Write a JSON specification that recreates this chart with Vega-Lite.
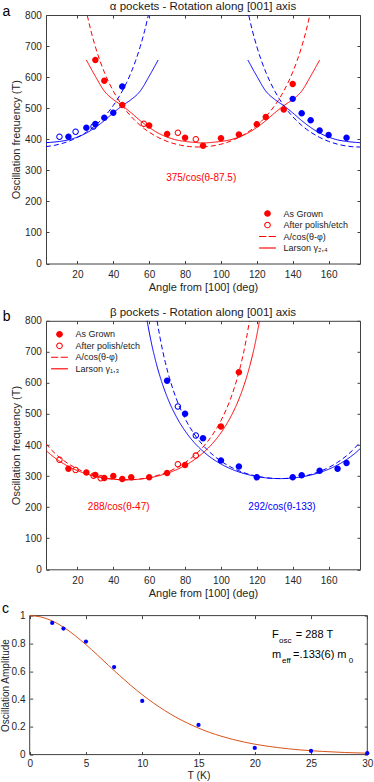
{
  "$schema": "https://vega.github.io/schema/vega-lite/v6.json",
  "padding": {"left": 0, "top": 0, "right": 0, "bottom": 0},
  "background": "white",
  "config": {
    "font": "Liberation Sans",
    "view": {"stroke": "#404040", "strokeWidth": 1},
    "axis": {"domain": false, "grid": false, "tickColor": "#404040", "tickSize": -3, "labelColor": "#262626", "labelFontSize": 10, "titleFontSize": 11, "titleFontWeight": "normal", "titleColor": "#262626", "labelFont": "Liberation Sans", "titleFont": "Liberation Sans", "labelFlush": false},
    "axisBottom": {"labelPadding": 8.9, "titlePadding": 2},
    "axisLeft": {"labelPadding": 7.7, "titlePadding": 3.5},
    "title": {"fontSize": 11.5, "fontWeight": "normal", "color": "#1a1a1a", "offset": -8.2, "font": "Liberation Sans"},
    "legend": {"title": null, "padding": 0, "labelFontSize": 9, "labelOffset": 11.5, "rowPadding": 1.5, "labelColor": "#1a1a1a", "labelFont": "Liberation Sans", "symbolFillColor": "#FF0000", "symbolStrokeWidth": 0, "symbolStrokeColor": "transparent", "symbolSize": 45, "symbolOpacity": 1}
  },
  "datasets": {
    "aPoints": [
      {"pocket": "red", "kind": "As Grown", "angle": 30, "freq": 655},
      {"pocket": "red", "kind": "As Grown", "angle": 35, "freq": 588},
      {"pocket": "red", "kind": "As Grown", "angle": 45, "freq": 510},
      {"pocket": "red", "kind": "As Grown", "angle": 60, "freq": 444},
      {"pocket": "red", "kind": "As Grown", "angle": 70, "freq": 417},
      {"pocket": "red", "kind": "As Grown", "angle": 80, "freq": 405},
      {"pocket": "red", "kind": "As Grown", "angle": 90, "freq": 379},
      {"pocket": "red", "kind": "As Grown", "angle": 100, "freq": 403},
      {"pocket": "red", "kind": "As Grown", "angle": 110, "freq": 415},
      {"pocket": "red", "kind": "As Grown", "angle": 120, "freq": 448},
      {"pocket": "red", "kind": "As Grown", "angle": 125, "freq": 472},
      {"pocket": "red", "kind": "As Grown", "angle": 135, "freq": 496},
      {"pocket": "red", "kind": "As Grown", "angle": 140, "freq": 578},
      {"pocket": "red", "kind": "After polish/etch", "angle": 57, "freq": 450},
      {"pocket": "red", "kind": "After polish/etch", "angle": 76, "freq": 421},
      {"pocket": "red", "kind": "After polish/etch", "angle": 86, "freq": 400},
      {"pocket": "blue", "kind": "As Grown", "angle": 15, "freq": 408},
      {"pocket": "blue", "kind": "As Grown", "angle": 25, "freq": 437},
      {"pocket": "blue", "kind": "As Grown", "angle": 30, "freq": 449},
      {"pocket": "blue", "kind": "As Grown", "angle": 35, "freq": 469},
      {"pocket": "blue", "kind": "As Grown", "angle": 40, "freq": 485},
      {"pocket": "blue", "kind": "As Grown", "angle": 45, "freq": 570},
      {"pocket": "blue", "kind": "As Grown", "angle": 140, "freq": 530},
      {"pocket": "blue", "kind": "As Grown", "angle": 145, "freq": 484},
      {"pocket": "blue", "kind": "As Grown", "angle": 150, "freq": 461},
      {"pocket": "blue", "kind": "As Grown", "angle": 155, "freq": 428},
      {"pocket": "blue", "kind": "As Grown", "angle": 160, "freq": 414},
      {"pocket": "blue", "kind": "As Grown", "angle": 170, "freq": 405},
      {"pocket": "blue", "kind": "After polish/etch", "angle": 10, "freq": 408},
      {"pocket": "blue", "kind": "After polish/etch", "angle": 19, "freq": 424},
      {"pocket": "blue", "kind": "After polish/etch", "angle": 29, "freq": 441}
    ],
    "aLines": [
      {"pocket": "red", "style": "A/cos(θ-φ)", "seg": "rd", "angle": 25.5, "freq": 798.7},
      {"pocket": "red", "style": "A/cos(θ-φ)", "seg": "rd", "angle": 27.5, "freq": 750},
      {"pocket": "red", "style": "A/cos(θ-φ)", "seg": "rd", "angle": 30, "freq": 698},
      {"pocket": "red", "style": "A/cos(θ-φ)", "seg": "rd", "angle": 32.5, "freq": 653.8},
      {"pocket": "red", "style": "A/cos(θ-φ)", "seg": "rd", "angle": 35, "freq": 616},
      {"pocket": "red", "style": "A/cos(θ-φ)", "seg": "rd", "angle": 37.5, "freq": 583.4},
      {"pocket": "red", "style": "A/cos(θ-φ)", "seg": "rd", "angle": 40, "freq": 555},
      {"pocket": "red", "style": "A/cos(θ-φ)", "seg": "rd", "angle": 42.5, "freq": 530.3},
      {"pocket": "red", "style": "A/cos(θ-φ)", "seg": "rd", "angle": 45, "freq": 508.6},
      {"pocket": "red", "style": "A/cos(θ-φ)", "seg": "rd", "angle": 47.5, "freq": 489.5},
      {"pocket": "red", "style": "A/cos(θ-φ)", "seg": "rd", "angle": 50, "freq": 472.7},
      {"pocket": "red", "style": "A/cos(θ-φ)", "seg": "rd", "angle": 52.5, "freq": 457.8},
      {"pocket": "red", "style": "A/cos(θ-φ)", "seg": "rd", "angle": 55, "freq": 444.6},
      {"pocket": "red", "style": "A/cos(θ-φ)", "seg": "rd", "angle": 57.5, "freq": 433},
      {"pocket": "red", "style": "A/cos(θ-φ)", "seg": "rd", "angle": 60, "freq": 422.8},
      {"pocket": "red", "style": "A/cos(θ-φ)", "seg": "rd", "angle": 62.5, "freq": 413.8},
      {"pocket": "red", "style": "A/cos(θ-φ)", "seg": "rd", "angle": 65, "freq": 405.9},
      {"pocket": "red", "style": "A/cos(θ-φ)", "seg": "rd", "angle": 67.5, "freq": 399.1},
      {"pocket": "red", "style": "A/cos(θ-φ)", "seg": "rd", "angle": 70, "freq": 393.2},
      {"pocket": "red", "style": "A/cos(θ-φ)", "seg": "rd", "angle": 72.5, "freq": 388.2},
      {"pocket": "red", "style": "A/cos(θ-φ)", "seg": "rd", "angle": 75, "freq": 384.1},
      {"pocket": "red", "style": "A/cos(θ-φ)", "seg": "rd", "angle": 77.5, "freq": 380.8},
      {"pocket": "red", "style": "A/cos(θ-φ)", "seg": "rd", "angle": 80, "freq": 378.3},
      {"pocket": "red", "style": "A/cos(θ-φ)", "seg": "rd", "angle": 82.5, "freq": 376.4},
      {"pocket": "red", "style": "A/cos(θ-φ)", "seg": "rd", "angle": 85, "freq": 375.4},
      {"pocket": "red", "style": "A/cos(θ-φ)", "seg": "rd", "angle": 87.5, "freq": 375},
      {"pocket": "red", "style": "A/cos(θ-φ)", "seg": "rd", "angle": 90, "freq": 375.4},
      {"pocket": "red", "style": "A/cos(θ-φ)", "seg": "rd", "angle": 92.5, "freq": 376.4},
      {"pocket": "red", "style": "A/cos(θ-φ)", "seg": "rd", "angle": 95, "freq": 378.3},
      {"pocket": "red", "style": "A/cos(θ-φ)", "seg": "rd", "angle": 97.5, "freq": 380.8},
      {"pocket": "red", "style": "A/cos(θ-φ)", "seg": "rd", "angle": 100, "freq": 384.1},
      {"pocket": "red", "style": "A/cos(θ-φ)", "seg": "rd", "angle": 102.5, "freq": 388.2},
      {"pocket": "red", "style": "A/cos(θ-φ)", "seg": "rd", "angle": 105, "freq": 393.2},
      {"pocket": "red", "style": "A/cos(θ-φ)", "seg": "rd", "angle": 107.5, "freq": 399.1},
      {"pocket": "red", "style": "A/cos(θ-φ)", "seg": "rd", "angle": 110, "freq": 405.9},
      {"pocket": "red", "style": "A/cos(θ-φ)", "seg": "rd", "angle": 112.5, "freq": 413.8},
      {"pocket": "red", "style": "A/cos(θ-φ)", "seg": "rd", "angle": 115, "freq": 422.8},
      {"pocket": "red", "style": "A/cos(θ-φ)", "seg": "rd", "angle": 117.5, "freq": 433},
      {"pocket": "red", "style": "A/cos(θ-φ)", "seg": "rd", "angle": 120, "freq": 444.6},
      {"pocket": "red", "style": "A/cos(θ-φ)", "seg": "rd", "angle": 122.5, "freq": 457.8},
      {"pocket": "red", "style": "A/cos(θ-φ)", "seg": "rd", "angle": 125, "freq": 472.7},
      {"pocket": "red", "style": "A/cos(θ-φ)", "seg": "rd", "angle": 127.5, "freq": 489.5},
      {"pocket": "red", "style": "A/cos(θ-φ)", "seg": "rd", "angle": 130, "freq": 508.6},
      {"pocket": "red", "style": "A/cos(θ-φ)", "seg": "rd", "angle": 132.5, "freq": 530.3},
      {"pocket": "red", "style": "A/cos(θ-φ)", "seg": "rd", "angle": 135, "freq": 555},
      {"pocket": "red", "style": "A/cos(θ-φ)", "seg": "rd", "angle": 137.5, "freq": 583.4},
      {"pocket": "red", "style": "A/cos(θ-φ)", "seg": "rd", "angle": 140, "freq": 616},
      {"pocket": "red", "style": "A/cos(θ-φ)", "seg": "rd", "angle": 142.5, "freq": 653.8},
      {"pocket": "red", "style": "A/cos(θ-φ)", "seg": "rd", "angle": 145, "freq": 698},
      {"pocket": "red", "style": "A/cos(θ-φ)", "seg": "rd", "angle": 147.5, "freq": 750},
      {"pocket": "red", "style": "A/cos(θ-φ)", "seg": "rd", "angle": 149.5, "freq": 798.7},
      {"pocket": "blue", "style": "A/cos(θ-φ)", "seg": "bd1", "angle": 2.5, "freq": 376.4},
      {"pocket": "blue", "style": "A/cos(θ-φ)", "seg": "bd1", "angle": 5, "freq": 378.3},
      {"pocket": "blue", "style": "A/cos(θ-φ)", "seg": "bd1", "angle": 7.5, "freq": 380.8},
      {"pocket": "blue", "style": "A/cos(θ-φ)", "seg": "bd1", "angle": 10, "freq": 384.1},
      {"pocket": "blue", "style": "A/cos(θ-φ)", "seg": "bd1", "angle": 12.5, "freq": 388.2},
      {"pocket": "blue", "style": "A/cos(θ-φ)", "seg": "bd1", "angle": 15, "freq": 393.2},
      {"pocket": "blue", "style": "A/cos(θ-φ)", "seg": "bd1", "angle": 17.5, "freq": 399.1},
      {"pocket": "blue", "style": "A/cos(θ-φ)", "seg": "bd1", "angle": 20, "freq": 405.9},
      {"pocket": "blue", "style": "A/cos(θ-φ)", "seg": "bd1", "angle": 22.5, "freq": 413.8},
      {"pocket": "blue", "style": "A/cos(θ-φ)", "seg": "bd1", "angle": 25, "freq": 422.8},
      {"pocket": "blue", "style": "A/cos(θ-φ)", "seg": "bd1", "angle": 27.5, "freq": 433},
      {"pocket": "blue", "style": "A/cos(θ-φ)", "seg": "bd1", "angle": 30, "freq": 444.6},
      {"pocket": "blue", "style": "A/cos(θ-φ)", "seg": "bd1", "angle": 32.5, "freq": 457.8},
      {"pocket": "blue", "style": "A/cos(θ-φ)", "seg": "bd1", "angle": 35, "freq": 472.7},
      {"pocket": "blue", "style": "A/cos(θ-φ)", "seg": "bd1", "angle": 37.5, "freq": 489.5},
      {"pocket": "blue", "style": "A/cos(θ-φ)", "seg": "bd1", "angle": 40, "freq": 508.6},
      {"pocket": "blue", "style": "A/cos(θ-φ)", "seg": "bd1", "angle": 42.5, "freq": 530.3},
      {"pocket": "blue", "style": "A/cos(θ-φ)", "seg": "bd1", "angle": 45, "freq": 555},
      {"pocket": "blue", "style": "A/cos(θ-φ)", "seg": "bd1", "angle": 47.5, "freq": 583.4},
      {"pocket": "blue", "style": "A/cos(θ-φ)", "seg": "bd1", "angle": 50, "freq": 616},
      {"pocket": "blue", "style": "A/cos(θ-φ)", "seg": "bd1", "angle": 52.5, "freq": 653.8},
      {"pocket": "blue", "style": "A/cos(θ-φ)", "seg": "bd1", "angle": 55, "freq": 698},
      {"pocket": "blue", "style": "A/cos(θ-φ)", "seg": "bd1", "angle": 57.5, "freq": 750},
      {"pocket": "blue", "style": "A/cos(θ-φ)", "seg": "bd1", "angle": 59.5, "freq": 798.7},
      {"pocket": "blue", "style": "A/cos(θ-φ)", "seg": "bd2", "angle": 115.5, "freq": 798.7},
      {"pocket": "blue", "style": "A/cos(θ-φ)", "seg": "bd2", "angle": 117.5, "freq": 750},
      {"pocket": "blue", "style": "A/cos(θ-φ)", "seg": "bd2", "angle": 120, "freq": 698},
      {"pocket": "blue", "style": "A/cos(θ-φ)", "seg": "bd2", "angle": 122.5, "freq": 653.8},
      {"pocket": "blue", "style": "A/cos(θ-φ)", "seg": "bd2", "angle": 125, "freq": 616},
      {"pocket": "blue", "style": "A/cos(θ-φ)", "seg": "bd2", "angle": 127.5, "freq": 583.4},
      {"pocket": "blue", "style": "A/cos(θ-φ)", "seg": "bd2", "angle": 130, "freq": 555},
      {"pocket": "blue", "style": "A/cos(θ-φ)", "seg": "bd2", "angle": 132.5, "freq": 530.3},
      {"pocket": "blue", "style": "A/cos(θ-φ)", "seg": "bd2", "angle": 135, "freq": 508.6},
      {"pocket": "blue", "style": "A/cos(θ-φ)", "seg": "bd2", "angle": 137.5, "freq": 489.5},
      {"pocket": "blue", "style": "A/cos(θ-φ)", "seg": "bd2", "angle": 140, "freq": 472.7},
      {"pocket": "blue", "style": "A/cos(θ-φ)", "seg": "bd2", "angle": 142.5, "freq": 457.8},
      {"pocket": "blue", "style": "A/cos(θ-φ)", "seg": "bd2", "angle": 145, "freq": 444.6},
      {"pocket": "blue", "style": "A/cos(θ-φ)", "seg": "bd2", "angle": 147.5, "freq": 433},
      {"pocket": "blue", "style": "A/cos(θ-φ)", "seg": "bd2", "angle": 150, "freq": 422.8},
      {"pocket": "blue", "style": "A/cos(θ-φ)", "seg": "bd2", "angle": 152.5, "freq": 413.8},
      {"pocket": "blue", "style": "A/cos(θ-φ)", "seg": "bd2", "angle": 155, "freq": 405.9},
      {"pocket": "blue", "style": "A/cos(θ-φ)", "seg": "bd2", "angle": 157.5, "freq": 399.1},
      {"pocket": "blue", "style": "A/cos(θ-φ)", "seg": "bd2", "angle": 160, "freq": 393.2},
      {"pocket": "blue", "style": "A/cos(θ-φ)", "seg": "bd2", "angle": 162.5, "freq": 388.2},
      {"pocket": "blue", "style": "A/cos(θ-φ)", "seg": "bd2", "angle": 165, "freq": 384.1},
      {"pocket": "blue", "style": "A/cos(θ-φ)", "seg": "bd2", "angle": 167.5, "freq": 380.8},
      {"pocket": "blue", "style": "A/cos(θ-φ)", "seg": "bd2", "angle": 170, "freq": 378.3},
      {"pocket": "blue", "style": "A/cos(θ-φ)", "seg": "bd2", "angle": 172.5, "freq": 376.4},
      {"pocket": "blue", "style": "A/cos(θ-φ)", "seg": "bd2", "angle": 175, "freq": 375.4},
      {"pocket": "blue", "style": "A/cos(θ-φ)", "seg": "bd2", "angle": 177.5, "freq": 375},
      {"pocket": "red", "style": "Larson", "seg": "rl", "angle": 25, "freq": 655},
      {"pocket": "red", "style": "Larson", "seg": "rl", "angle": 30, "freq": 603},
      {"pocket": "red", "style": "Larson", "seg": "rl", "angle": 35, "freq": 555},
      {"pocket": "red", "style": "Larson", "seg": "rl", "angle": 40, "freq": 528},
      {"pocket": "red", "style": "Larson", "seg": "rl", "angle": 45, "freq": 508},
      {"pocket": "red", "style": "Larson", "seg": "rl", "angle": 50, "freq": 485},
      {"pocket": "red", "style": "Larson", "seg": "rl", "angle": 55, "freq": 460},
      {"pocket": "red", "style": "Larson", "seg": "rl", "angle": 60, "freq": 438},
      {"pocket": "red", "style": "Larson", "seg": "rl", "angle": 65, "freq": 420},
      {"pocket": "red", "style": "Larson", "seg": "rl", "angle": 70, "freq": 407},
      {"pocket": "red", "style": "Larson", "seg": "rl", "angle": 75, "freq": 398},
      {"pocket": "red", "style": "Larson", "seg": "rl", "angle": 80, "freq": 393},
      {"pocket": "red", "style": "Larson", "seg": "rl", "angle": 85, "freq": 390},
      {"pocket": "red", "style": "Larson", "seg": "rl", "angle": 90, "freq": 388},
      {"pocket": "red", "style": "Larson", "seg": "rl", "angle": 95, "freq": 390},
      {"pocket": "red", "style": "Larson", "seg": "rl", "angle": 100, "freq": 393},
      {"pocket": "red", "style": "Larson", "seg": "rl", "angle": 105, "freq": 398},
      {"pocket": "red", "style": "Larson", "seg": "rl", "angle": 110, "freq": 407},
      {"pocket": "red", "style": "Larson", "seg": "rl", "angle": 115, "freq": 420},
      {"pocket": "red", "style": "Larson", "seg": "rl", "angle": 120, "freq": 438},
      {"pocket": "red", "style": "Larson", "seg": "rl", "angle": 125, "freq": 460},
      {"pocket": "red", "style": "Larson", "seg": "rl", "angle": 130, "freq": 485},
      {"pocket": "red", "style": "Larson", "seg": "rl", "angle": 135, "freq": 508},
      {"pocket": "red", "style": "Larson", "seg": "rl", "angle": 140, "freq": 528},
      {"pocket": "red", "style": "Larson", "seg": "rl", "angle": 145, "freq": 555},
      {"pocket": "red", "style": "Larson", "seg": "rl", "angle": 150, "freq": 603},
      {"pocket": "red", "style": "Larson", "seg": "rl", "angle": 155, "freq": 655},
      {"pocket": "blue", "style": "Larson", "seg": "bl1", "angle": 2.5, "freq": 389},
      {"pocket": "blue", "style": "Larson", "seg": "bl1", "angle": 5, "freq": 390},
      {"pocket": "blue", "style": "Larson", "seg": "bl1", "angle": 10, "freq": 393},
      {"pocket": "blue", "style": "Larson", "seg": "bl1", "angle": 15, "freq": 398},
      {"pocket": "blue", "style": "Larson", "seg": "bl1", "angle": 20, "freq": 407},
      {"pocket": "blue", "style": "Larson", "seg": "bl1", "angle": 25, "freq": 420},
      {"pocket": "blue", "style": "Larson", "seg": "bl1", "angle": 30, "freq": 438},
      {"pocket": "blue", "style": "Larson", "seg": "bl1", "angle": 35, "freq": 460},
      {"pocket": "blue", "style": "Larson", "seg": "bl1", "angle": 40, "freq": 485},
      {"pocket": "blue", "style": "Larson", "seg": "bl1", "angle": 45, "freq": 508},
      {"pocket": "blue", "style": "Larson", "seg": "bl1", "angle": 50, "freq": 528},
      {"pocket": "blue", "style": "Larson", "seg": "bl1", "angle": 55, "freq": 555},
      {"pocket": "blue", "style": "Larson", "seg": "bl1", "angle": 60, "freq": 603},
      {"pocket": "blue", "style": "Larson", "seg": "bl1", "angle": 65, "freq": 655},
      {"pocket": "blue", "style": "Larson", "seg": "bl2", "angle": 115, "freq": 655},
      {"pocket": "blue", "style": "Larson", "seg": "bl2", "angle": 120, "freq": 603},
      {"pocket": "blue", "style": "Larson", "seg": "bl2", "angle": 125, "freq": 555},
      {"pocket": "blue", "style": "Larson", "seg": "bl2", "angle": 130, "freq": 528},
      {"pocket": "blue", "style": "Larson", "seg": "bl2", "angle": 135, "freq": 508},
      {"pocket": "blue", "style": "Larson", "seg": "bl2", "angle": 140, "freq": 485},
      {"pocket": "blue", "style": "Larson", "seg": "bl2", "angle": 145, "freq": 460},
      {"pocket": "blue", "style": "Larson", "seg": "bl2", "angle": 150, "freq": 438},
      {"pocket": "blue", "style": "Larson", "seg": "bl2", "angle": 155, "freq": 420},
      {"pocket": "blue", "style": "Larson", "seg": "bl2", "angle": 160, "freq": 407},
      {"pocket": "blue", "style": "Larson", "seg": "bl2", "angle": 165, "freq": 398},
      {"pocket": "blue", "style": "Larson", "seg": "bl2", "angle": 170, "freq": 393},
      {"pocket": "blue", "style": "Larson", "seg": "bl2", "angle": 175, "freq": 390},
      {"pocket": "blue", "style": "Larson", "seg": "bl2", "angle": 177.5, "freq": 389}
    ],
    "aNotes": [
      {"pocket": "red", "angle": 89, "freq": 274, "label": "375/cos(θ-87.5)"}
    ],
    "aTag": [{"angle": -19.6, "freq": 798, "label": "a"}],
    "bPoints": [
      {"pocket": "red", "kind": "As Grown", "angle": 15, "freq": 324},
      {"pocket": "red", "kind": "As Grown", "angle": 25, "freq": 312},
      {"pocket": "red", "kind": "As Grown", "angle": 30, "freq": 304},
      {"pocket": "red", "kind": "As Grown", "angle": 35, "freq": 294},
      {"pocket": "red", "kind": "As Grown", "angle": 40, "freq": 300},
      {"pocket": "red", "kind": "As Grown", "angle": 45, "freq": 291},
      {"pocket": "red", "kind": "As Grown", "angle": 50, "freq": 296},
      {"pocket": "red", "kind": "As Grown", "angle": 60, "freq": 296},
      {"pocket": "red", "kind": "As Grown", "angle": 70, "freq": 310},
      {"pocket": "red", "kind": "As Grown", "angle": 80, "freq": 336},
      {"pocket": "red", "kind": "As Grown", "angle": 100, "freq": 460},
      {"pocket": "red", "kind": "As Grown", "angle": 110, "freq": 634},
      {"pocket": "red", "kind": "After polish/etch", "angle": 10, "freq": 353},
      {"pocket": "red", "kind": "After polish/etch", "angle": 19, "freq": 320},
      {"pocket": "red", "kind": "After polish/etch", "angle": 29, "freq": 301},
      {"pocket": "red", "kind": "After polish/etch", "angle": 33, "freq": 293},
      {"pocket": "red", "kind": "After polish/etch", "angle": 76, "freq": 338},
      {"pocket": "red", "kind": "After polish/etch", "angle": 86, "freq": 366},
      {"pocket": "blue", "kind": "As Grown", "angle": 70, "freq": 607},
      {"pocket": "blue", "kind": "As Grown", "angle": 80, "freq": 501},
      {"pocket": "blue", "kind": "As Grown", "angle": 90, "freq": 422},
      {"pocket": "blue", "kind": "As Grown", "angle": 100, "freq": 350},
      {"pocket": "blue", "kind": "As Grown", "angle": 110, "freq": 331},
      {"pocket": "blue", "kind": "As Grown", "angle": 120, "freq": 296},
      {"pocket": "blue", "kind": "As Grown", "angle": 140, "freq": 296},
      {"pocket": "blue", "kind": "As Grown", "angle": 145, "freq": 303},
      {"pocket": "blue", "kind": "As Grown", "angle": 155, "freq": 317},
      {"pocket": "blue", "kind": "As Grown", "angle": 165, "freq": 324},
      {"pocket": "blue", "kind": "As Grown", "angle": 170, "freq": 342},
      {"pocket": "blue", "kind": "After polish/etch", "angle": 76, "freq": 524},
      {"pocket": "blue", "kind": "After polish/etch", "angle": 86, "freq": 431}
    ],
    "bLines": [
      {"pocket": "red", "style": "A/cos(θ-φ)", "seg": "rd", "angle": 2.5, "freq": 403.8},
      {"pocket": "red", "style": "A/cos(θ-φ)", "seg": "rd", "angle": 5, "freq": 387.6},
      {"pocket": "red", "style": "A/cos(θ-φ)", "seg": "rd", "angle": 10, "freq": 360.6},
      {"pocket": "red", "style": "A/cos(θ-φ)", "seg": "rd", "angle": 15, "freq": 339.6},
      {"pocket": "red", "style": "A/cos(θ-φ)", "seg": "rd", "angle": 20, "freq": 323.2},
      {"pocket": "red", "style": "A/cos(θ-φ)", "seg": "rd", "angle": 25, "freq": 310.6},
      {"pocket": "red", "style": "A/cos(θ-φ)", "seg": "rd", "angle": 30, "freq": 301.2},
      {"pocket": "red", "style": "A/cos(θ-φ)", "seg": "rd", "angle": 35, "freq": 294.4},
      {"pocket": "red", "style": "A/cos(θ-φ)", "seg": "rd", "angle": 40, "freq": 290.2},
      {"pocket": "red", "style": "A/cos(θ-φ)", "seg": "rd", "angle": 45, "freq": 288.2},
      {"pocket": "red", "style": "A/cos(θ-φ)", "seg": "rd", "angle": 50, "freq": 288.4},
      {"pocket": "red", "style": "A/cos(θ-φ)", "seg": "rd", "angle": 55, "freq": 290.8},
      {"pocket": "red", "style": "A/cos(θ-φ)", "seg": "rd", "angle": 60, "freq": 295.6},
      {"pocket": "red", "style": "A/cos(θ-φ)", "seg": "rd", "angle": 65, "freq": 302.8},
      {"pocket": "red", "style": "A/cos(θ-φ)", "seg": "rd", "angle": 70, "freq": 312.9},
      {"pocket": "red", "style": "A/cos(θ-φ)", "seg": "rd", "angle": 75, "freq": 326.2},
      {"pocket": "red", "style": "A/cos(θ-φ)", "seg": "rd", "angle": 80, "freq": 343.4},
      {"pocket": "red", "style": "A/cos(θ-φ)", "seg": "rd", "angle": 85, "freq": 365.5},
      {"pocket": "red", "style": "A/cos(θ-φ)", "seg": "rd", "angle": 90, "freq": 393.8},
      {"pocket": "red", "style": "A/cos(θ-φ)", "seg": "rd", "angle": 95, "freq": 430.4},
      {"pocket": "red", "style": "A/cos(θ-φ)", "seg": "rd", "angle": 100, "freq": 478.6},
      {"pocket": "red", "style": "A/cos(θ-φ)", "seg": "rd", "angle": 105, "freq": 543.5},
      {"pocket": "red", "style": "A/cos(θ-φ)", "seg": "rd", "angle": 108, "freq": 594.1},
      {"pocket": "red", "style": "A/cos(θ-φ)", "seg": "rd", "angle": 111, "freq": 657},
      {"pocket": "red", "style": "A/cos(θ-φ)", "seg": "rd", "angle": 114, "freq": 737.1},
      {"pocket": "red", "style": "A/cos(θ-φ)", "seg": "rd", "angle": 115.9, "freq": 800},
      {"pocket": "blue", "style": "A/cos(θ-φ)", "seg": "bd", "angle": 64.4, "freq": 800.2},
      {"pocket": "blue", "style": "A/cos(θ-φ)", "seg": "bd", "angle": 66, "freq": 747.4},
      {"pocket": "blue", "style": "A/cos(θ-φ)", "seg": "bd", "angle": 69, "freq": 666.1},
      {"pocket": "blue", "style": "A/cos(θ-φ)", "seg": "bd", "angle": 72, "freq": 602.3},
      {"pocket": "blue", "style": "A/cos(θ-φ)", "seg": "bd", "angle": 75, "freq": 551},
      {"pocket": "blue", "style": "A/cos(θ-φ)", "seg": "bd", "angle": 80, "freq": 485.2},
      {"pocket": "blue", "style": "A/cos(θ-φ)", "seg": "bd", "angle": 85, "freq": 436.4},
      {"pocket": "blue", "style": "A/cos(θ-φ)", "seg": "bd", "angle": 90, "freq": 399.2},
      {"pocket": "blue", "style": "A/cos(θ-φ)", "seg": "bd", "angle": 95, "freq": 370.6},
      {"pocket": "blue", "style": "A/cos(θ-φ)", "seg": "bd", "angle": 100, "freq": 348.2},
      {"pocket": "blue", "style": "A/cos(θ-φ)", "seg": "bd", "angle": 105, "freq": 330.7},
      {"pocket": "blue", "style": "A/cos(θ-φ)", "seg": "bd", "angle": 110, "freq": 317.2},
      {"pocket": "blue", "style": "A/cos(θ-φ)", "seg": "bd", "angle": 115, "freq": 307},
      {"pocket": "blue", "style": "A/cos(θ-φ)", "seg": "bd", "angle": 120, "freq": 299.7},
      {"pocket": "blue", "style": "A/cos(θ-φ)", "seg": "bd", "angle": 125, "freq": 294.9},
      {"pocket": "blue", "style": "A/cos(θ-φ)", "seg": "bd", "angle": 130, "freq": 292.4},
      {"pocket": "blue", "style": "A/cos(θ-φ)", "seg": "bd", "angle": 135, "freq": 292.2},
      {"pocket": "blue", "style": "A/cos(θ-φ)", "seg": "bd", "angle": 140, "freq": 294.2},
      {"pocket": "blue", "style": "A/cos(θ-φ)", "seg": "bd", "angle": 145, "freq": 298.5},
      {"pocket": "blue", "style": "A/cos(θ-φ)", "seg": "bd", "angle": 150, "freq": 305.3},
      {"pocket": "blue", "style": "A/cos(θ-φ)", "seg": "bd", "angle": 155, "freq": 314.9},
      {"pocket": "blue", "style": "A/cos(θ-φ)", "seg": "bd", "angle": 160, "freq": 327.7},
      {"pocket": "blue", "style": "A/cos(θ-φ)", "seg": "bd", "angle": 165, "freq": 344.3},
      {"pocket": "blue", "style": "A/cos(θ-φ)", "seg": "bd", "angle": 170, "freq": 365.6},
      {"pocket": "blue", "style": "A/cos(θ-φ)", "seg": "bd", "angle": 175, "freq": 392.9},
      {"pocket": "blue", "style": "A/cos(θ-φ)", "seg": "bd", "angle": 177.5, "freq": 409.4},
      {"pocket": "red", "style": "Larson", "seg": "rl", "angle": 2.5, "freq": 382.6},
      {"pocket": "red", "style": "Larson", "seg": "rl", "angle": 5, "freq": 369.8},
      {"pocket": "red", "style": "Larson", "seg": "rl", "angle": 10, "freq": 348.3},
      {"pocket": "red", "style": "Larson", "seg": "rl", "angle": 15, "freq": 331.2},
      {"pocket": "red", "style": "Larson", "seg": "rl", "angle": 20, "freq": 317.7},
      {"pocket": "red", "style": "Larson", "seg": "rl", "angle": 25, "freq": 307.2},
      {"pocket": "red", "style": "Larson", "seg": "rl", "angle": 30, "freq": 299.2},
      {"pocket": "red", "style": "Larson", "seg": "rl", "angle": 35, "freq": 293.5},
      {"pocket": "red", "style": "Larson", "seg": "rl", "angle": 40, "freq": 289.9},
      {"pocket": "red", "style": "Larson", "seg": "rl", "angle": 47, "freq": 288},
      {"pocket": "red", "style": "Larson", "seg": "rl", "angle": 55, "freq": 290.4},
      {"pocket": "red", "style": "Larson", "seg": "rl", "angle": 60, "freq": 294.5},
      {"pocket": "red", "style": "Larson", "seg": "rl", "angle": 65, "freq": 300.6},
      {"pocket": "red", "style": "Larson", "seg": "rl", "angle": 70, "freq": 309.1},
      {"pocket": "red", "style": "Larson", "seg": "rl", "angle": 75, "freq": 320.1},
      {"pocket": "red", "style": "Larson", "seg": "rl", "angle": 80, "freq": 334.3},
      {"pocket": "red", "style": "Larson", "seg": "rl", "angle": 85, "freq": 352.2},
      {"pocket": "red", "style": "Larson", "seg": "rl", "angle": 90, "freq": 374.8},
      {"pocket": "red", "style": "Larson", "seg": "rl", "angle": 95, "freq": 403.1},
      {"pocket": "red", "style": "Larson", "seg": "rl", "angle": 100, "freq": 439.4},
      {"pocket": "red", "style": "Larson", "seg": "rl", "angle": 105, "freq": 486},
      {"pocket": "red", "style": "Larson", "seg": "rl", "angle": 110, "freq": 547.6},
      {"pocket": "red", "style": "Larson", "seg": "rl", "angle": 113, "freq": 594.9},
      {"pocket": "red", "style": "Larson", "seg": "rl", "angle": 116, "freq": 653},
      {"pocket": "red", "style": "Larson", "seg": "rl", "angle": 119, "freq": 725.2},
      {"pocket": "red", "style": "Larson", "seg": "rl", "angle": 121.5, "freq": 800.4},
      {"pocket": "blue", "style": "Larson", "seg": "bl", "angle": 58.5, "freq": 811.6},
      {"pocket": "blue", "style": "Larson", "seg": "bl", "angle": 61, "freq": 735.3},
      {"pocket": "blue", "style": "Larson", "seg": "bl", "angle": 64, "freq": 662.1},
      {"pocket": "blue", "style": "Larson", "seg": "bl", "angle": 67, "freq": 603.2},
      {"pocket": "blue", "style": "Larson", "seg": "bl", "angle": 70, "freq": 555.2},
      {"pocket": "blue", "style": "Larson", "seg": "bl", "angle": 75, "freq": 492.7},
      {"pocket": "blue", "style": "Larson", "seg": "bl", "angle": 80, "freq": 445.5},
      {"pocket": "blue", "style": "Larson", "seg": "bl", "angle": 85, "freq": 408.7},
      {"pocket": "blue", "style": "Larson", "seg": "bl", "angle": 90, "freq": 380},
      {"pocket": "blue", "style": "Larson", "seg": "bl", "angle": 95, "freq": 357.1},
      {"pocket": "blue", "style": "Larson", "seg": "bl", "angle": 100, "freq": 339},
      {"pocket": "blue", "style": "Larson", "seg": "bl", "angle": 105, "freq": 324.6},
      {"pocket": "blue", "style": "Larson", "seg": "bl", "angle": 110, "freq": 313.4},
      {"pocket": "blue", "style": "Larson", "seg": "bl", "angle": 115, "freq": 304.8},
      {"pocket": "blue", "style": "Larson", "seg": "bl", "angle": 120, "freq": 298.6},
      {"pocket": "blue", "style": "Larson", "seg": "bl", "angle": 125, "freq": 294.4},
      {"pocket": "blue", "style": "Larson", "seg": "bl", "angle": 133, "freq": 292},
      {"pocket": "blue", "style": "Larson", "seg": "bl", "angle": 140, "freq": 293.9},
      {"pocket": "blue", "style": "Larson", "seg": "bl", "angle": 145, "freq": 297.6},
      {"pocket": "blue", "style": "Larson", "seg": "bl", "angle": 150, "freq": 303.3},
      {"pocket": "blue", "style": "Larson", "seg": "bl", "angle": 155, "freq": 311.4},
      {"pocket": "blue", "style": "Larson", "seg": "bl", "angle": 160, "freq": 322.1},
      {"pocket": "blue", "style": "Larson", "seg": "bl", "angle": 165, "freq": 335.8},
      {"pocket": "blue", "style": "Larson", "seg": "bl", "angle": 170, "freq": 353.2},
      {"pocket": "blue", "style": "Larson", "seg": "bl", "angle": 175, "freq": 374.9},
      {"pocket": "blue", "style": "Larson", "seg": "bl", "angle": 177.5, "freq": 387.9}
    ],
    "bNotes": [
      {"pocket": "red", "angle": 43, "freq": 200, "label": "288/cos(θ-47)"},
      {"pocket": "blue", "angle": 134, "freq": 200, "label": "292/cos(θ-133)"}
    ],
    "bTag": [{"angle": -19.5, "freq": 800, "label": "b"}],
    "cPoints": [
      {"T": 2, "amp": 0.947}, {"T": 3, "amp": 0.907}, {"T": 5, "amp": 0.813},
      {"T": 7.5, "amp": 0.63}, {"T": 10, "amp": 0.386}, {"T": 15, "amp": 0.213},
      {"T": 20, "amp": 0.048}, {"T": 25, "amp": 0.026}, {"T": 30, "amp": 0.01}
    ],
    "cCurve": [
      {"T": 0, "amp": 1}, {"T": 1, "amp": 0.99}, {"T": 2, "amp": 0.962}, {"T": 3, "amp": 0.917},
      {"T": 4, "amp": 0.858}, {"T": 5, "amp": 0.791}, {"T": 6, "amp": 0.718}, {"T": 7, "amp": 0.642},
      {"T": 8, "amp": 0.568}, {"T": 9, "amp": 0.497}, {"T": 10, "amp": 0.431}, {"T": 11, "amp": 0.371},
      {"T": 12, "amp": 0.317}, {"T": 13, "amp": 0.269}, {"T": 14, "amp": 0.227}, {"T": 15, "amp": 0.191},
      {"T": 16, "amp": 0.159}, {"T": 17, "amp": 0.133}, {"T": 18, "amp": 0.11}, {"T": 19, "amp": 0.091},
      {"T": 20, "amp": 0.075}, {"T": 22, "amp": 0.051}, {"T": 24, "amp": 0.034}, {"T": 26, "amp": 0.023},
      {"T": 28, "amp": 0.015}, {"T": 30, "amp": 0.01}
    ],
    "cText": [
      {"T": 21.54, "amp": 0.839, "label": "F"},
      {"T": 23.64, "amp": 0.839, "label": "= 288 T"},
      {"T": 21.54, "amp": 0.695, "label": "m"},
      {"T": 23.4, "amp": 0.695, "label": "=.133(6) m"}
    ],
    "cSub": [
      {"T": 22.16, "amp": 0.839, "label": "osc"},
      {"T": 22.42, "amp": 0.695, "label": "eff"},
      {"T": 28.35, "amp": 0.695, "label": "0"}
    ],
    "cTag": [{"T": -2.14, "amp": 1.018, "label": "c"}],
    "none": []
  },
  "concat": [
    {"width": 1, "height": 259.9, "data": {"name": "none"}, "mark": "point", "view": {"stroke": null}},
    {
      "width": 314, "height": 248.5,
      "title": {"text": "α pockets - Rotation along [001] axis"},
      "layer": [
        {
          "data": {"name": "aLines"},
          "mark": {"type": "line", "clip": true, "strokeWidth": 1, "interpolate": "monotone"},
          "encoding": {
            "x": {"field": "angle", "type": "quantitative", "scale": {"domain": [2.5, 177.5], "nice": false, "zero": false}, "axis": {"values": [20, 40, 60, 80, 100, 120, 140, 160], "title": "Angle from [100] (deg)"}},
            "y": {"field": "freq", "type": "quantitative", "scale": {"domain": [0, 800], "nice": false}, "axis": {"values": [0, 100, 200, 300, 400, 500, 600, 700, 800], "title": "Oscillation frequency (T)"}},
            "color": {"field": "pocket", "type": "nominal", "scale": {"domain": ["red", "blue"], "range": ["#FF0000", "#0000FF"]}, "legend": null},
            "strokeDash": {"field": "style", "type": "nominal", "scale": {"domain": ["A/cos(θ-φ)", "Larson"], "range": [[5, 3], [1, 0]]}, "legend": null},
            "detail": {"field": "seg", "type": "nominal"}
          }
        },
        {
          "data": {"name": "aPoints"},
          "mark": {"type": "point", "filled": true, "size": 42, "opacity": 1, "strokeWidth": 0},
          "encoding": {
            "x": {"field": "angle", "type": "quantitative", "scale": {"domain": [2.5, 177.5], "nice": false, "zero": false}, "axis": null},
            "y": {"field": "freq", "type": "quantitative", "scale": {"domain": [0, 800], "nice": false}, "axis": null},
            "color": {"field": "pocket", "type": "nominal", "legend": null},
            "shape": {"field": "kind", "type": "nominal",
              "scale": {"domain": ["As Grown", "After polish/etch", "A/cos(θ-φ)", "Larson γ₂,₄"],
                "range": ["M-1,0A1,1 0 1,1 1,0A1,1 0 1,1 -1,0Z", "M-1,0A1,1 0 1,1 1,0A1,1 0 1,1 -1,0ZM-0.69,0A0.69,0.69 0 1,0 0.69,0A0.69,0.69 0 1,0 -0.69,0Z", "M-2.5,-0.17L-0.35,-0.17L-0.35,0.17L-2.5,0.17ZM0.35,-0.17L2.5,-0.17L2.5,0.17L0.35,0.17Z", "M-2.5,-0.17L2.5,-0.17L2.5,0.17L-2.5,0.17Z"]},
              "legend": {"orient": "bottom-right", "offset": 11}}
          }
        },
        {
          "data": {"name": "aNotes"},
          "mark": {"type": "text", "fontSize": 10, "align": "center", "baseline": "middle"},
          "encoding": {
            "x": {"field": "angle", "type": "quantitative", "scale": {"domain": [2.5, 177.5], "nice": false, "zero": false}, "axis": {"orient": "top", "labels": false, "title": null, "values": [20, 40, 60, 80, 100, 120, 140, 160]}},
            "y": {"field": "freq", "type": "quantitative", "scale": {"domain": [0, 800], "nice": false}, "axis": {"orient": "right", "labels": false, "title": null, "values": [0, 100, 200, 300, 400, 500, 600, 700, 800]}},
            "text": {"field": "label"},
            "color": {"field": "pocket", "type": "nominal", "legend": null}
          }
        },
        {
          "data": {"name": "aTag"},
          "mark": {"type": "text", "fontSize": 14, "align": "center", "baseline": "alphabetic", "color": "#000000"},
          "encoding": {
            "x": {"field": "angle", "type": "quantitative", "scale": {"domain": [2.5, 177.5], "nice": false, "zero": false}, "axis": null},
            "y": {"field": "freq", "type": "quantitative", "scale": {"domain": [0, 800], "nice": false}, "axis": null},
            "text": {"field": "label"}
          }
        }
      ],
      "resolve": {"axis": {"x": "independent", "y": "independent"}}
    },
    {"width": 1, "height": 1, "data": {"name": "none"}, "mark": "point", "view": {"stroke": null}},
    {
      "width": 314, "height": 248.5,
      "title": {"text": "β pockets - Rotation along [001] axis"},
      "layer": [
        {
          "data": {"name": "bLines"},
          "mark": {"type": "line", "clip": true, "strokeWidth": 1, "interpolate": "monotone"},
          "encoding": {
            "x": {"field": "angle", "type": "quantitative", "scale": {"domain": [2.5, 177.5], "nice": false, "zero": false}, "axis": {"values": [20, 40, 60, 80, 100, 120, 140, 160], "title": "Angle from [100] (deg)"}},
            "y": {"field": "freq", "type": "quantitative", "scale": {"domain": [0, 800], "nice": false}, "axis": {"values": [0, 100, 200, 300, 400, 500, 600, 700, 800], "title": "Oscillation frequency (T)"}},
            "color": {"field": "pocket", "type": "nominal", "scale": {"domain": ["red", "blue"], "range": ["#FF0000", "#0000FF"]}, "legend": null},
            "strokeDash": {"field": "style", "type": "nominal", "scale": {"domain": ["A/cos(θ-φ)", "Larson"], "range": [[5, 3], [1, 0]]}, "legend": null},
            "detail": {"field": "seg", "type": "nominal"}
          }
        },
        {
          "data": {"name": "bPoints"},
          "mark": {"type": "point", "filled": true, "size": 42, "opacity": 1, "strokeWidth": 0},
          "encoding": {
            "x": {"field": "angle", "type": "quantitative", "scale": {"domain": [2.5, 177.5], "nice": false, "zero": false}, "axis": null},
            "y": {"field": "freq", "type": "quantitative", "scale": {"domain": [0, 800], "nice": false}, "axis": null},
            "color": {"field": "pocket", "type": "nominal", "legend": null},
            "shape": {"field": "kind", "type": "nominal",
              "scale": {"domain": ["As Grown", "After polish/etch", "A/cos(θ-φ)", "Larson γ₁,₃"],
                "range": ["M-1,0A1,1 0 1,1 1,0A1,1 0 1,1 -1,0Z", "M-1,0A1,1 0 1,1 1,0A1,1 0 1,1 -1,0ZM-0.69,0A0.69,0.69 0 1,0 0.69,0A0.69,0.69 0 1,0 -0.69,0Z", "M-2.5,-0.17L-0.35,-0.17L-0.35,0.17L-2.5,0.17ZM0.35,-0.17L2.5,-0.17L2.5,0.17L0.35,0.17Z", "M-2.5,-0.17L2.5,-0.17L2.5,0.17L-2.5,0.17Z"]},
              "legend": {"orient": "top-left", "offset": 9}}
          }
        },
        {
          "data": {"name": "bNotes"},
          "mark": {"type": "text", "fontSize": 10, "align": "center", "baseline": "middle"},
          "encoding": {
            "x": {"field": "angle", "type": "quantitative", "scale": {"domain": [2.5, 177.5], "nice": false, "zero": false}, "axis": {"orient": "top", "labels": false, "title": null, "values": [20, 40, 60, 80, 100, 120, 140, 160]}},
            "y": {"field": "freq", "type": "quantitative", "scale": {"domain": [0, 800], "nice": false}, "axis": {"orient": "right", "labels": false, "title": null, "values": [0, 100, 200, 300, 400, 500, 600, 700, 800]}},
            "text": {"field": "label"},
            "color": {"field": "pocket", "type": "nominal", "legend": null}
          }
        },
        {
          "data": {"name": "bTag"},
          "mark": {"type": "text", "fontSize": 14, "align": "center", "baseline": "alphabetic", "color": "#000000"},
          "encoding": {
            "x": {"field": "angle", "type": "quantitative", "scale": {"domain": [2.5, 177.5], "nice": false, "zero": false}, "axis": null},
            "y": {"field": "freq", "type": "quantitative", "scale": {"domain": [0, 800], "nice": false}, "axis": null},
            "text": {"field": "label"}
          }
        }
      ],
      "resolve": {"axis": {"x": "independent", "y": "independent"}}
    },
    {"width": 1, "height": 1, "data": {"name": "none"}, "mark": "point", "view": {"stroke": null}},
    {
      "width": 321.3, "height": 139,
      "view": {"stroke": null},
      "layer": [
        {
          "data": {"values": [{}]},
          "mark": {"type": "rect", "filled": false, "stroke": "#404040", "strokeWidth": 1},
          "encoding": {
            "x": {"datum": 0, "type": "quantitative", "scale": {"domain": [0, 30], "range": [-16.3, 321.3], "nice": false, "zero": false}, "axis": {"values": [0, 5, 10, 15, 20, 25, 30], "title": "T (K)", "labelPadding": 7.3, "titlePadding": 1.8, "titleFontSize": 10.5}},
            "x2": {"datum": 30},
            "y": {"datum": 0, "type": "quantitative", "scale": {"domain": [0, 1], "nice": false}, "axis": {"values": [0, 0.2, 0.4, 0.6, 0.8, 1], "format": "~g", "title": "Oscillation Amplitude", "titlePadding": 0.7, "titleFontSize": 10, "offset": 16.3}},
            "y2": {"datum": 1}
          }
        },
        {
          "data": {"name": "cCurve"},
          "mark": {"type": "line", "color": "#D95319", "strokeWidth": 1, "interpolate": "monotone"},
          "encoding": {
            "x": {"field": "T", "type": "quantitative", "scale": {"domain": [0, 30], "range": [-16.3, 321.3], "nice": false, "zero": false}, "axis": null},
            "y": {"field": "amp", "type": "quantitative", "scale": {"domain": [0, 1], "nice": false}, "axis": null}
          }
        },
        {
          "data": {"name": "cPoints"},
          "mark": {"type": "point", "filled": true, "color": "#0000FF", "size": 18, "opacity": 1, "shape": "circle"},
          "encoding": {
            "x": {"field": "T", "type": "quantitative", "scale": {"domain": [0, 30], "range": [-16.3, 321.3], "nice": false, "zero": false}, "axis": null},
            "y": {"field": "amp", "type": "quantitative", "scale": {"domain": [0, 1], "nice": false}, "axis": null}
          }
        },
        {
          "data": {"name": "cText"},
          "mark": {"type": "text", "fontSize": 11, "align": "left", "baseline": "alphabetic", "color": "#000000"},
          "encoding": {
            "x": {"field": "T", "type": "quantitative", "scale": {"domain": [0, 30], "range": [-16.3, 321.3], "nice": false, "zero": false}, "axis": {"orient": "top", "labels": false, "title": null, "values": [0, 5, 10, 15, 20, 25, 30]}},
            "y": {"field": "amp", "type": "quantitative", "scale": {"domain": [0, 1], "nice": false}, "axis": {"orient": "right", "labels": false, "title": null, "values": [0, 0.2, 0.4, 0.6, 0.8, 1]}},
            "text": {"field": "label"}
          }
        },
        {
          "data": {"name": "cSub"},
          "mark": {"type": "text", "fontSize": 8, "align": "left", "baseline": "alphabetic", "dy": 5, "color": "#000000"},
          "encoding": {
            "x": {"field": "T", "type": "quantitative", "scale": {"domain": [0, 30], "range": [-16.3, 321.3], "nice": false, "zero": false}, "axis": null},
            "y": {"field": "amp", "type": "quantitative", "scale": {"domain": [0, 1], "nice": false}, "axis": null},
            "text": {"field": "label"}
          }
        },
        {
          "data": {"name": "cTag"},
          "mark": {"type": "text", "fontSize": 14, "align": "center", "baseline": "alphabetic", "color": "#000000"},
          "encoding": {
            "x": {"field": "T", "type": "quantitative", "scale": {"domain": [0, 30], "range": [-16.3, 321.3], "nice": false, "zero": false}, "axis": null},
            "y": {"field": "amp", "type": "quantitative", "scale": {"domain": [0, 1], "nice": false}, "axis": null},
            "text": {"field": "label"}
          }
        }
      ],
      "resolve": {"axis": {"x": "independent", "y": "independent"}}
    }
  ],
  "columns": 2,
  "bounds": "flush",
  "spacing": {"row": 45.8, "column": 0},
  "resolve": {"scale": {"shape": "independent"}, "legend": {"shape": "independent"}}
}
